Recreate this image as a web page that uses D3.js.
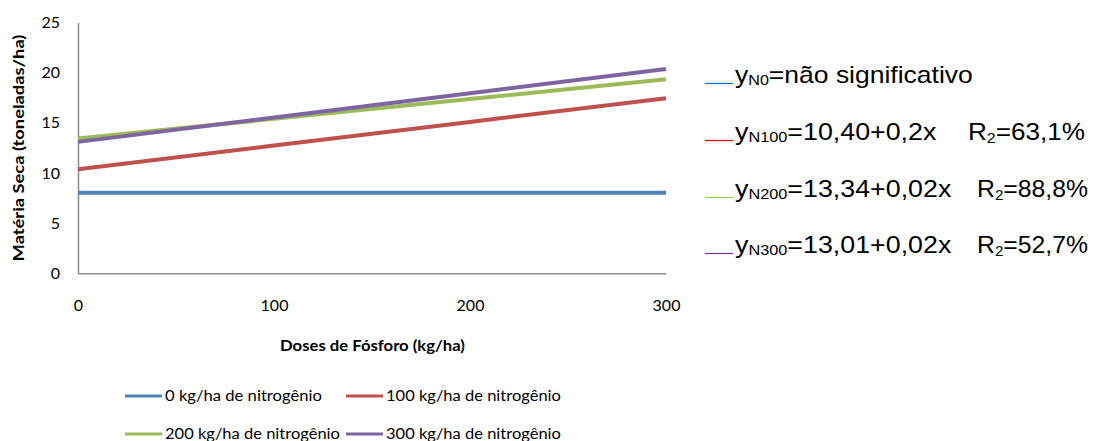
<!DOCTYPE html>
<html>
<head>
<meta charset="utf-8">
<script src="https://cdn.jsdelivr.net/npm/d3@7"></script>
<style>
  body { margin: 0; background: #fff; }
  svg text { font-family: Lato, "Open Sans", sans-serif; fill: #000; }
  svg .eq text { font-family: "Liberation Sans", Arial, sans-serif; }
</style>
</head>
<body>
<div id="chart"></div>
<script>
// Data
var doses = [0, 100, 200, 300];
var seriesNames = ["0 kg/ha de nitrogênio", "100 kg/ha de nitrogênio",
                   "200 kg/ha de nitrogênio", "300 kg/ha de nitrogênio"];
var n0 = [8.02, 8.02, 8.02, 8.02];
var n100 = [10.38, 12.74, 15.09, 17.45];
var n200 = [13.43, 15.40, 17.37, 19.34];
var n300 = [13.10, 15.52, 17.95, 20.37];
var yTicks = [0, 5, 10, 15, 20, 25];
var xTicks = [0, 100, 200, 300];

// equation labels on the right
var eqSub = ["N0", "N100", "N200", "N300"];
var eqText = ["=não significativo", "=10,40+0,2x", "=13,34+0,02x", "=13,01+0,02x"];
var eqR2 = [null, "=63,1%", "=88,8%", "=52,7%"];

var colors = ["#4F81BD", "#C0504D", "#9BBB59", "#8064A2"];
var eqColors = ["#0070C0", "#E00000", "#92D050", "#7030A0"];

var width = 1095, height = 441;
var margin = {top: 22.5, left: 78, right: 429, bottom: 167.7};

var svg = d3.select("#chart")
  .append("svg")
    .attr("width", width)
    .attr("height", height);

// stretch a text horizontally (in its own coords) so it spans a given width
function fit(node, target, x0) {
  var w = node.getBBox().width;
  var k = target / w;
  var base = node.getAttribute("transform") || "";
  node.setAttribute("transform", base + " translate(" + x0 + ",0) scale(" + k + ",1) translate(" + (-x0) + ",0)");
}

// Set the scales
var x = d3.scaleLinear().domain([0, 300]).range([margin.left, width - margin.right]);
var y = d3.scaleLinear().domain([0, 25]).range([height - margin.bottom, margin.top]);

// y axis
var yAxis = svg.append("g")
  .attr("transform", "translate(" + margin.left + ",0)")
  .call(d3.axisLeft(y).tickValues(yTicks).tickSize(0).tickPadding(18));
yAxis.select(".domain").attr("stroke", "#8c8c8c").attr("stroke-width", 1.5);
yAxis.selectAll("text").style("font-size", "16px").attr("font-family", null);

// x axis
var xAxis = svg.append("g")
  .attr("transform", "translate(0," + y(0) + ")")
  .call(d3.axisBottom(x).tickValues(xTicks).tickSize(0).tickPadding(26));
xAxis.select(".domain").attr("stroke", "#8c8c8c").attr("stroke-width", 1.5);
xAxis.selectAll("text").style("font-size", "16px").attr("font-family", null);

// Axis titles
var xt = svg.append("text")
  .attr("x", 372.5)
  .attr("y", 351)
  .attr("text-anchor", "middle")
  .style("font-size", "15.5px")
  .style("font-weight", "bold")
  .text("Doses de Fósforo (kg/ha)");
fit(xt.node(), 185, 372.5);

var yt = svg.append("text")
  .attr("transform", "translate(24,148) rotate(-90)")
  .attr("text-anchor", "middle")
  .style("font-size", "16px")
  .style("font-weight", "bold")
  .text("Matéria Seca (toneladas/ha)");
fit(yt.node(), 227, 0);

// Lines
var allSeries = [n0, n100, n200, n300];
var line = d3.line()
  .x(function(d, i) { return x(doses[i]); })
  .y(function(d) { return y(d); });

svg.selectAll(".serie")
  .data(allSeries)
  .enter()
  .append("path")
    .attr("class", "serie")
    .attr("d", line)
    .attr("fill", "none")
    .attr("stroke", function(d, i) { return colors[i]; })
    .attr("stroke-width", 4);

// Legend at the bottom
var legPos = [[125, 396], [346, 396], [125, 434], [346, 434]];
var legW = [157, 175, 175, 175];
var leg = svg.selectAll(".leg")
  .data(seriesNames)
  .enter()
  .append("g")
    .attr("class", "leg")
    .attr("transform", function(d, i) { return "translate(" + legPos[i][0] + "," + legPos[i][1] + ")"; });
leg.append("line")
  .attr("x1", 0).attr("x2", 37)
  .attr("stroke", function(d, i) { return colors[i]; })
  .attr("stroke-width", 3);
leg.append("text")
  .attr("x", 40)
  .attr("dy", "0.35em")
  .style("font-size", "15px")
  .text(function(d) { return d; })
  .each(function(d, i) { fit(this, legW[i], 40); });

// Equations on the right
var eqY = [83, 140, 197, 253];
var eqW = [238, 202, 217, 217];
var r2X = [null, 968, 977, 977];
var r2W = [null, 117, 111, 111];
var eq = svg.selectAll(".eq")
  .data(eqText)
  .enter()
  .append("g")
    .attr("class", "eq")
    .attr("transform", function(d, i) { return "translate(705," + eqY[i] + ")"; });
eq.append("line")
  .attr("x1", 0).attr("x2", 28)
  .attr("y1", 0.5).attr("y2", 0.5)
  .attr("stroke", function(d, i) { return eqColors[i]; })
  .attr("stroke-width", 1.2);
var t = eq.append("text")
  .attr("x", 30)
  .style("font-size", "23px");
t.append("tspan").text("y");
t.append("tspan")
  .attr("dy", 2)
  .style("font-size", "14px")
  .text(function(d, i) { return eqSub[i]; });
t.append("tspan")
  .attr("dy", -2)
  .text(function(d) { return d; });
t.each(function(d, i) { fit(this, eqW[i], 30); });

eq.each(function(d, i) {
  if (eqR2[i] === null) return;
  var r = d3.select(this).append("text")
    .attr("x", r2X[i] - 705)
    .style("font-size", "23px");
  r.append("tspan").text("R");
  r.append("tspan")
    .attr("dy", 3)
    .style("font-size", "14px")
    .text("2");
  r.append("tspan")
    .attr("dy", -3)
    .text(eqR2[i]);
  fit(r.node(), r2W[i], r2X[i] - 705);
});
</script>
</body>
</html>
